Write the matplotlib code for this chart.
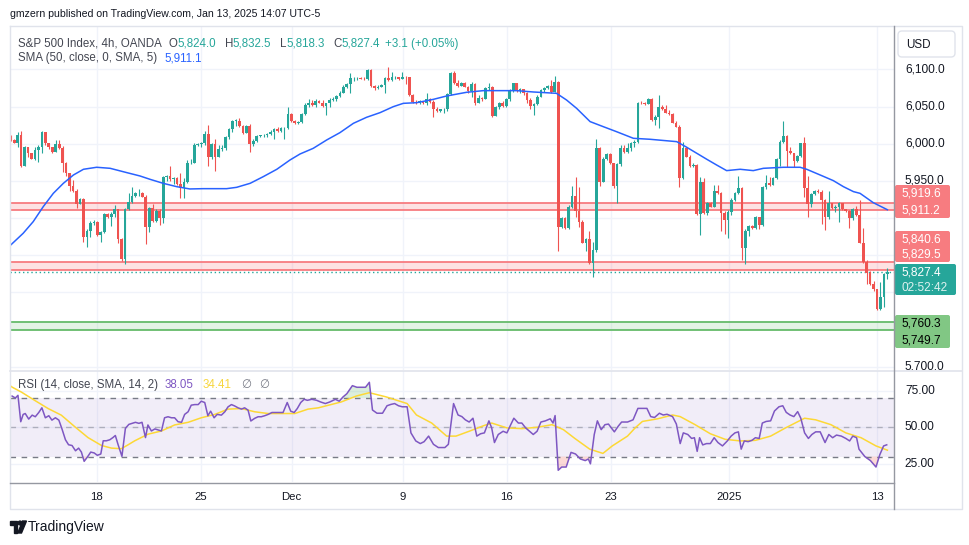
#S&P 500 Index 4h chart with SMA(50) and RSI(14), redrawn like the TradingView snapshot

import numpy as np
import matplotlib
matplotlib.use("Agg")
import matplotlib.pyplot as plt
from matplotlib.patches import FancyBboxPatch, Polygon, Circle

plt.rcParams["font.family"] = ["Liberation Sans", "DejaVu Sans"]

#Candles (open of each bar = previous close)
first_open = 6010.5
closes = [
    6005.1, 6001.5, 6011.8, 5970.0, 5995.2, 5988.0, 5979.9, 5991.6, 5995.2, 6016.3,
    6000.6, 5995.2, 5989.3, 5999.7, 5993.8, 5973.6, 5961.1, 5943.1, 5936.8, 5918.8,
    5925.1, 5874.9, 5883.0, 5893.7, 5894.6, 5877.1, 5881.6, 5905.4, 5901.8, 5905.4,
    5911.7, 5871.3, 5844.3, 5911.7, 5922.0, 5929.6, 5933.2, 5934.1, 5928.7, 5888.3,
    5913.0, 5896.4, 5909.9, 5899.5, 5955.7, 5956.6, 5952.1, 5953.4, 5945.8, 5940.0,
    5948.9, 5973.6, 5974.5, 5998.3, 5999.7, 6001.5, 6013.1, 5981.7, 5999.7, 5982.6,
    5992.5, 5993.8, 6009.5, 6019.4, 6031.1, 6031.1, 6023.9, 6015.0, 6023.9, 5999.7,
    6004.2, 6010.5, 6011.3, 6011.8, 6013.1, 6016.3, 6019.4, 6017.6, 6020.8, 6020.8,
    6040.1, 6031.1, 6027.5, 6029.8, 6040.1, 6052.2, 6055.3, 6052.2, 6058.0, 6055.3,
    6050.8, 6054.4, 6058.9, 6059.8, 6064.3, 6068.8, 6076.9, 6080.5, 6088.1, 6088.1,
    6088.6, 6087.7, 6086.8, 6099.3, 6077.8, 6074.6, 6076.9, 6078.7, 6088.1, 6085.9,
    6089.5, 6089.5, 6086.8, 6090.4, 6089.5, 6065.7, 6056.7, 6054.4, 6057.1, 6054.4,
    6059.8, 6056.7, 6046.4, 6044.6, 6046.4, 6047.3, 6067.0, 6095.7, 6082.3, 6077.8,
    6081.4, 6076.9, 6071.5, 6080.5, 6055.3, 6061.2, 6059.8, 6074.6, 6076.9, 6037.4,
    6049.1, 6055.3, 6050.8, 6059.8, 6072.4, 6081.4, 6071.5, 6073.3, 6067.9, 6058.9,
    6050.8, 6053.5, 6063.4, 6072.4, 6074.6, 6077.8, 6070.2, 6083.6, 5887.4, 5899.5,
    5886.1, 5915.3, 5929.6, 5909.9, 5895.1, 5866.8, 5871.3, 5839.0, 5856.9, 5993.8,
    5948.9, 5979.0, 5986.2, 5973.6, 5943.1, 5972.7, 5993.8, 5989.3, 5993.8, 6001.5,
    6002.8, 6055.3, 6054.4, 6053.5, 6059.8, 6032.0, 6036.5, 6049.9, 6046.4, 6041.9,
    6040.1, 6028.4, 6023.0, 5953.4, 5993.8, 5982.6, 5970.0, 5971.8, 5905.4, 5948.9,
    5906.3, 5920.6, 5915.3, 5936.8, 5933.2, 5906.3, 5897.3, 5908.5, 5924.2, 5934.1,
    5940.0, 5859.2, 5883.0, 5889.2, 5886.1, 5900.9, 5890.6, 5941.3, 5947.6, 5944.5,
    5953.4, 5979.0, 6002.8, 6010.5, 5990.7, 5987.1, 5977.2, 5983.5, 6000.6, 5940.0,
    5918.8, 5932.3, 5936.8, 5935.5, 5924.2, 5900.9, 5920.6, 5913.0, 5915.3, 5919.7,
    5911.7, 5909.9, 5899.5, 5911.7, 5904.1, 5866.8, 5841.2, 5825.5, 5811.1, 5804.0,
    5777.0, 5793.2, 5824.0, 5827.4,
]
highs = [
    6011.8, 6006.9, 6016.3, 6017.6, 5997.0, 5992.5, 5987.1, 5995.2, 5998.3, 6017.6,
    6016.3, 6001.5, 5996.1, 6005.1, 6005.1, 5997.0, 5975.9, 5954.8, 5951.2, 5938.6,
    5926.5, 5926.5, 5884.7, 5895.5, 5897.3, 5896.4, 5883.0, 5907.2, 5906.3, 5908.1,
    5917.0, 5912.6, 5873.1, 5913.0, 5933.2, 5942.2, 5935.5, 5938.6, 5935.0, 5931.0,
    5915.2, 5918.8, 5911.7, 5911.7, 5956.6, 5957.9, 5970.0, 5954.8, 5955.7, 5960.2,
    5953.4, 5978.1, 5979.0, 6000.6, 6001.5, 6002.8, 6017.6, 6025.3, 6001.5, 6006.0,
    5998.3, 5998.3, 6010.5, 6020.8, 6032.0, 6032.9, 6034.2, 6025.3, 6025.3, 6026.6,
    6006.0, 6011.8, 6012.2, 6013.1, 6014.9, 6018.5, 6021.7, 6022.1, 6023.0, 6023.0,
    6049.1, 6041.9, 6032.0, 6031.1, 6041.9, 6054.4, 6059.8, 6058.9, 6059.8, 6058.9,
    6058.9, 6055.3, 6061.2, 6062.5, 6066.1, 6070.6, 6078.7, 6081.4, 6094.8, 6089.5,
    6089.5, 6089.5, 6089.5, 6101.1, 6100.2, 6079.1, 6079.1, 6080.5, 6090.4, 6103.8,
    6097.1, 6091.3, 6090.4, 6097.1, 6091.3, 6090.4, 6067.0, 6058.9, 6058.9, 6058.0,
    6068.8, 6061.2, 6058.9, 6050.0, 6047.3, 6048.6, 6068.8, 6097.1, 6098.0, 6085.9,
    6083.2, 6083.2, 6077.8, 6083.2, 6081.4, 6065.7, 6063.4, 6076.0, 6081.4, 6077.8,
    6050.8, 6056.7, 6057.1, 6061.2, 6073.3, 6082.3, 6082.3, 6075.1, 6074.2, 6070.2,
    6061.2, 6055.3, 6065.7, 6074.2, 6076.0, 6079.1, 6085.9, 6091.3, 6085.0, 5901.8,
    5900.9, 5917.5, 5943.1, 5954.8, 5942.2, 5897.3, 5872.6, 5883.0, 5868.1, 6006.0,
    5995.2, 5981.7, 5988.0, 5987.1, 5974.5, 5974.5, 5998.3, 5998.3, 6000.6, 6002.8,
    6005.1, 6056.7, 6057.1, 6056.2, 6061.2, 6061.2, 6038.7, 6065.7, 6052.2, 6052.2,
    6045.5, 6041.9, 6031.1, 6025.3, 6002.8, 5995.2, 5984.8, 5973.6, 5972.7, 5954.8,
    5953.4, 5922.0, 5922.0, 5944.5, 5944.5, 5935.5, 5909.9, 5910.8, 5926.5, 5935.5,
    5956.6, 5941.3, 5884.7, 5890.6, 5890.6, 5902.7, 5901.8, 5943.1, 5957.9, 5955.7,
    5954.8, 5980.4, 6005.1, 6031.1, 6011.8, 5996.1, 5988.0, 5984.8, 6001.5, 6008.6,
    5956.6, 5934.1, 5937.7, 5938.6, 5937.7, 5925.1, 5936.8, 5920.6, 5917.5, 5922.0,
    5920.6, 5912.6, 5910.8, 5913.0, 5916.2, 5924.2, 5886.1, 5843.4, 5829.1, 5815.6,
    5804.9, 5814.3, 5826.0, 5832.5,
]
lows = [
    6004.2, 6000.6, 5995.2, 5968.0, 5970.0, 5982.6, 5979.0, 5978.1, 5975.9, 5988.0,
    5998.3, 5992.5, 5988.0, 5990.7, 5992.5, 5962.4, 5956.6, 5936.8, 5935.5, 5913.0,
    5918.8, 5868.1, 5860.5, 5874.9, 5890.6, 5875.8, 5868.1, 5879.4, 5900.0, 5889.2,
    5901.8, 5865.9, 5842.5, 5838.0, 5910.8, 5919.7, 5927.8, 5929.6, 5927.8, 5865.0,
    5881.6, 5895.1, 5895.1, 5890.6, 5892.8, 5950.3, 5950.3, 5945.8, 5944.5, 5926.5,
    5926.5, 5947.6, 5972.7, 5991.6, 5997.0, 5996.1, 5998.3, 5970.0, 5979.9, 5963.8,
    5982.6, 5990.7, 5991.6, 6006.0, 6016.3, 6023.9, 6023.0, 6013.1, 6015.0, 5989.3,
    5997.0, 6002.8, 6008.6, 6008.6, 6009.5, 6011.8, 6006.0, 6016.3, 6016.3, 6006.0,
    6019.4, 6029.8, 6026.6, 6026.6, 6027.5, 6038.7, 6049.9, 6050.8, 6049.9, 6054.4,
    6049.9, 6038.7, 6049.9, 6057.1, 6058.0, 6062.5, 6067.9, 6074.6, 6067.9, 6085.0,
    6085.9, 6086.8, 6085.9, 6085.9, 6076.9, 6072.4, 6074.2, 6076.9, 6068.8, 6085.0,
    6085.0, 6087.7, 6085.9, 6086.8, 6080.5, 6064.3, 6055.3, 6053.5, 6053.5, 6053.1,
    6052.2, 6055.3, 6035.6, 6043.2, 6043.2, 6041.0, 6044.6, 6065.7, 6080.5, 6076.9,
    6077.8, 6076.0, 6067.9, 6063.4, 6052.2, 6058.0, 6058.0, 6059.8, 6072.4, 6036.5,
    6037.4, 6046.4, 6049.9, 6049.9, 6058.0, 6070.2, 6070.2, 6067.9, 6066.1, 6055.3,
    6046.4, 6038.7, 6052.2, 6062.5, 6070.2, 6073.3, 6068.8, 6069.3, 5856.0, 5886.1,
    5884.7, 5884.7, 5913.0, 5901.8, 5888.3, 5865.9, 5856.0, 5838.0, 5821.0, 5854.7,
    5943.1, 5968.2, 5978.1, 5972.7, 5940.0, 5920.6, 5970.0, 5988.0, 5988.0, 5990.7,
    5995.2, 6000.6, 6053.5, 6052.6, 6053.5, 6031.1, 6025.3, 6020.8, 6045.5, 6041.0,
    6038.7, 6027.5, 6022.1, 5942.2, 5952.1, 5981.7, 5969.1, 5969.1, 5904.1, 5877.1,
    5905.4, 5904.1, 5914.4, 5914.4, 5932.3, 5883.0, 5878.5, 5872.6, 5904.1, 5923.3,
    5932.3, 5843.4, 5838.0, 5875.8, 5884.7, 5884.7, 5884.7, 5889.2, 5938.6, 5943.1,
    5945.8, 5952.1, 5970.0, 6001.5, 5969.1, 5986.2, 5969.1, 5975.9, 5981.7, 5927.8,
    5901.8, 5915.3, 5931.0, 5934.1, 5891.9, 5883.9, 5898.2, 5911.7, 5908.5, 5895.1,
    5910.8, 5908.5, 5886.1, 5897.3, 5902.7, 5865.9, 5839.9, 5811.1, 5809.8, 5802.2,
    5776.1, 5776.1, 5779.7, 5818.3,
]

#SMA(50) line (bar index, value)
sma_x = [0, 3.6, 6.5, 9.4, 12.3, 15.2, 18.1, 21, 24.8, 28.7, 33.5, 37.3, 40.2, 44, 47.9,
         51.7, 55.6, 62.3, 65.2, 69.1, 72.9, 76.8, 80.6, 83.5, 87.3, 91.2, 95, 98.9,
         102.7, 106.6, 110.4, 113.3, 117.2, 122, 125.8, 131.6, 136.4, 146, 150.8, 157.5,
         160.4, 163.3, 167.2, 171, 174.8, 179.7, 184.5, 192.2, 195.1, 198, 200.9, 203.7,
         206.6, 210.5, 214.3, 217.2, 223, 227.8, 229.7, 233.6, 237.4, 240.3, 243.2,
         245.1, 248.9, 253]
sma_vals = [5863.6, 5879.4, 5895.1, 5915.3, 5933.2, 5946.7, 5957.9, 5965.6, 5968.3, 5966.9,
            5961.1, 5956.6, 5952.1, 5946.7, 5942.2, 5939.1, 5939.5, 5939.5, 5941.3, 5946.7,
            5955.7, 5965.6, 5978.1, 5986.2, 5993.8, 6005.1, 6014.9, 6027.5, 6035.6, 6041.9,
            6049.9, 6054.4, 6055.3, 6059.8, 6064.3, 6069.3, 6071.5, 6071.5, 6069.7, 6067.9,
            6058.9, 6047.7, 6029.8, 6023.0, 6016.3, 6007.3, 6006.0, 6002.8, 5995.2, 5987.1,
            5979.0, 5971.4, 5963.8, 5965.6, 5963.8, 5966.9, 5968.3, 5968.3, 5965.6, 5957.9,
            5950.3, 5942.2, 5935.5, 5933.2, 5920.7, 5911.1]

#RSI(14) and its SMA
rsi_x = [0.4, 1.35, 2.1, 2.9, 3.6, 4.2, 5.2, 6.2, 7.1, 8.1, 9.0, 10.0, 11.0, 11.9, 12.9,
         13.9, 14.8, 15.8, 16.7, 17.7, 18.7, 19.6, 20.4, 21.2, 22.1, 23.1, 24.1, 25.0,
         26.0, 26.7, 27.6, 28.6, 29.5, 30.2, 31.0, 32.1, 33.1, 34.1, 35.0, 36.0, 37.0,
         37.9, 38.9, 39.6, 40.6, 41.6, 42.5, 43.5, 44.4, 45.4, 46.4, 47.3, 48.3, 49.3,
         50.2, 51.2, 52.1, 53.1, 54.1, 55.0, 56.0, 56.9, 57.7, 58.7, 59.6, 60.8, 61.8,
         62.7, 63.7, 64.6, 65.6, 66.6, 67.5, 68.5, 69.3, 70.4, 71.4, 72.3, 73.3, 74.3,
         75.4, 76.4, 77.6, 78.6, 79.8, 80.8, 81.8, 82.7, 83.7, 84.7,
         85.6, 86.9, 88.3, 89.4, 90.8, 92.1, 93.7, 94.8, 95.9, 97.0, 98.6, 99.9, 101.3,
         102.4, 103.5, 104.4, 105.7, 107.3, 108.6, 109.7, 110.8, 111.9, 113.0, 114.4,
         115.5, 116.9, 118.2, 119.3, 120.6, 122.0, 123.4, 125.3, 126.3, 127.8, 129.1,
         130.2, 131.2, 132.3, 133.4, 134.5, 135.6, 136.7, 138.0, 138.8, 139.6, 140.7,
         142.1, 143.2, 144.3, 145.2, 146.5, 147.5, 148.6, 149.7, 150.8, 151.9, 153.0,
         154.3, 155.7, 156.5, 157.1, 158.0, 159.0, 160.3, 161.7, 163.0, 164.4, 165.8,
         166.7, 167.3, 168.4, 169.3, 170.4, 171.5, 172.5, 174.2, 175.3, 176.3, 178.0,
         179.6, 181.0, 182.3, 183.6, 184.7, 185.8, 187.2, 188.3, 189.4, 191.0, 192.1,
         193.2, 194.1, 195.4, 196.5, 197.3, 198.1, 198.8, 199.7, 200.8, 201.9, 203.0,
         204.1, 205.4, 206.8, 207.9, 209.0, 210.0, 210.8, 211.7, 212.8, 213.9, 214.9,
         216.0, 216.9, 218.0, 219.3, 220.4, 221.7, 222.8, 223.8, 224.9, 226.0, 227.1,
         228.0, 229.1, 230.2, 231.2, 232.3, 233.6, 235.0, 236.1, 237.2, 238.3, 239.7,
         241.0, 242.1, 243.0, 244.1, 244.8, 246.5, 248.1, 249.7, 250.8, 251.9, 252.8]
rsi_vals = [71.3, 70.0, 71.8, 53.8, 58.8, 59.4, 55.6, 58.3, 57.2, 60.1, 63.3, 56.5, 57.9,
            54.9, 56.5, 54.9, 48.9, 41.5, 38.1, 37.6, 34.0, 35.8, 33.1, 26.8, 29.6, 33.1,
            32.5, 30.9, 31.8, 40.8, 40.8, 41.5, 43.0, 44.4, 38.1, 30.2, 49.3, 52.0, 52.7,
            53.4, 52.7, 53.4, 43.0, 51.6, 47.5, 48.9, 48.2, 47.5, 56.5, 57.2, 56.5, 56.5,
            53.8, 53.4, 58.8, 60.6, 65.1, 65.5, 65.5, 67.8, 66.9, 57.9, 61.0, 56.5, 58.8,
            58.3, 60.6, 63.9, 65.5, 64.6, 63.3, 62.4, 63.3, 61.7, 54.3, 56.1, 57.2, 57.2,
            57.9, 58.8, 60.1, 60.1, 60.1, 60.1, 66.9, 61.0, 60.1, 62.8, 66.9, 69.1,
            68.4, 69.1, 68.4, 67.3, 66.2, 67.3, 69.1, 67.8, 70.7, 72.9, 78.4, 77.3, 77.3,
            77.3, 80.7, 61.8, 59.6, 59.6, 64.7, 65.6, 66.2, 64.7, 64.0, 64.0, 46.2, 40.7,
            38.9, 40.2, 44.0, 38.4, 36.2, 36.2, 38.4, 66.2, 58.4, 57.3, 55.1, 53.6, 56.2,
            44.0, 45.6, 46.2, 54.4, 49.6, 39.6, 45.1, 47.3, 46.2, 51.8, 56.2, 52.9, 52.9,
            49.6, 47.3, 45.1, 47.3, 53.6, 54.4, 55.8, 52.9, 58.0, 20.7, 22.9, 22.9, 32.9,
            31.8, 28.4, 27.3, 28.4, 25.1, 45.1, 54.4, 48.4, 51.8, 52.2, 46.9, 50.7, 53.6,
            53.6, 55.1, 62.9, 62.9, 62.9, 57.3, 56.7, 59.6, 58.4, 58.9, 57.3, 52.2, 38.9,
            46.2, 45.1, 42.4, 42.9, 33.6, 42.9, 38.0, 38.9, 38.9, 42.9, 39.6, 37.3, 40.7,
            44.0, 46.2, 46.9, 35.1, 40.7, 40.2, 41.1, 42.9, 42.4, 52.9, 54.0, 54.4, 61.1,
            64.0, 64.7, 60.2, 58.4, 57.3, 60.7, 56.2, 46.2, 42.4, 45.1, 46.9, 46.9, 39.6,
            45.1, 42.9, 44.7, 44.0, 42.4, 40.7, 44.0, 42.9, 35.1, 30.0, 27.3, 22.9, 31.3,
            37.3, 38.05]
rsi_ma_x = [-0.2, 0.4, 3.1, 6.9, 10.8, 14.6, 18.5, 22.3, 26.2, 29.1, 31.9, 33.9, 35.8, 39.6,
            43.5, 47.3, 51.2, 55.0, 58.9, 62.7, 66.6, 70.4, 74.3, 78.1, 82.0, 85.8, 88.8,
            95.4, 99.7, 103.5, 108.4, 114.4, 117.1, 121.5, 125.8, 128.5, 132.3, 136.7,
            138.8, 143.2, 147.5, 151.9, 156.2, 159.5, 162.8, 167.1, 170.9, 173.6, 178.0,
            180.2, 182.3, 186.7, 191.0, 193.2, 197.5, 201.9, 206.2, 210.6, 214.9, 219.3,
            223.6, 229.1, 232.3, 236.7, 241.0, 245.4, 249.7, 253]
rsi_ma_vals = [78.5, 77.4, 74.0, 68.4, 62.8, 58.3, 50.4, 43.0, 37.6, 35.8, 35.4, 38.1, 40.8,
               45.3, 47.5, 51.6, 53.4, 56.5, 58.8, 62.4, 62.8, 60.6, 59.4, 59.4, 59.4, 62.4,
               63.3, 67.3, 71.3, 73.6, 70.7, 66.2, 58.4, 52.9, 44.0, 44.0, 47.3, 51.3, 52.9,
               49.6, 49.1, 50.0, 51.8, 48.4, 42.4, 35.1, 32.2, 37.3, 44.0, 49.6, 54.0, 55.8,
               58.4, 57.3, 51.8, 45.6, 41.8, 40.7, 41.1, 44.0, 49.6, 56.2, 55.1, 51.8, 46.2,
               42.9, 37.3, 34.41]

#Time axis and levels
date_ticks = [24.8, 54.8, 81.1, 113.1, 143.1, 173.2, 207.3, 250.0]
date_labels = ["18", "25", "Dec", "9", "16", "23", "2025", "13"]
price_grid = [5700, 5750, 5800, 5850, 5900, 5950, 6000, 6050, 6100]
rsi_grid = [25, 50, 75]
red_zones = [(5911.2, 5919.6), (5829.5, 5840.6)]
green_zone = (5749.7, 5760.3)
last_price = 5827.4

#Colours
UP = "#26A69A"
DOWN = "#EF5350"
TXT = "#131722"
LEG = "#434651"
GRID = "#F0F3FA"
BORDER = "#E0E3EB"
SCALE = "#9598A1"
RED_LVL = "#F77C80"
GREEN_LVL = "#66BB6A"

W, H = 970, 545
fig = plt.figure(figsize=(9.7, 5.45), dpi=100)
fig.patch.set_facecolor("white")


def box(x0, y0, x1, y1):
    #pixel box (top-left origin) -> figure fraction rect
    return [x0 / W, 1 - y1 / H, (x1 - x0) / W, (y1 - y0) / H]


ax = fig.add_axes(box(10, 27, 894, 370))
axr = fig.add_axes(box(10, 371, 894, 482))
ps = fig.add_axes(box(894, 27, 962, 370))
rs = fig.add_axes(box(894, 371, 962, 482))

XLIM = (-0.2, 254.9)

#Price pane
ax.set_xlim(*XLIM)
ax.set_ylim(5695.3, 6157.2)
for a in (ax, axr, ps, rs):
    for s in a.spines.values():
        s.set_visible(False)
    a.set_yticks([])
    a.set_xticks([])
    a.set_facecolor("none")

for p in price_grid:
    ax.axhline(p, color=GRID, lw=1, zorder=0)
for t in date_ticks:
    ax.axvline(t, color=GRID, lw=1, zorder=0)

for lo_, hi_ in red_zones:
    ax.axhspan(lo_, hi_, color=RED_LVL, alpha=0.22, lw=0, zorder=1)
    ax.axhline(lo_, color=RED_LVL, lw=1.3, zorder=1)
    ax.axhline(hi_, color=RED_LVL, lw=1.3, zorder=1)
ax.axhspan(green_zone[0], green_zone[1], color="#81C784", alpha=0.2, lw=0, zorder=1)
ax.axhline(green_zone[0], color=GREEN_LVL, lw=1.3, zorder=1)
ax.axhline(green_zone[1], color=GREEN_LVL, lw=1.3, zorder=1)

closes_a = np.array(closes)
opens_a = np.concatenate([[first_open], closes_a[:-1]])
highs_a = np.maximum(np.array(highs), np.maximum(opens_a, closes_a))
lows_a = np.minimum(np.array(lows), np.minimum(opens_a, closes_a))
xs = np.arange(len(closes_a))
colors = np.where(closes_a >= opens_a, UP, DOWN)

ax.vlines(xs, lows_a, highs_a, colors=colors, lw=0.8, zorder=3)
body_lo = np.minimum(opens_a, closes_a)
body_h = np.maximum(np.abs(closes_a - opens_a), 0.9)
ax.bar(xs, body_h, bottom=body_lo, width=0.78, color=colors, linewidth=0, zorder=4)

ax.plot(sma_x, sma_vals, color="#2962FF", lw=1.1, zorder=5)
ax.axhline(last_price, color=UP, lw=1, ls=(0, (1, 2)), zorder=2)

#RSI pane
axr.set_xlim(*XLIM)
axr.set_ylim(12.7, 88.4)
for r in rsi_grid:
    axr.axhline(r, color=GRID, lw=1, zorder=0)
for t in date_ticks:
    axr.axvline(t, color=GRID, lw=1, zorder=0)
axr.axhspan(30, 70, color="#7E57C2", alpha=0.1, lw=0, zorder=1)
axr.axhline(70, color="#787B86", lw=1, ls=(0, (4, 4)), zorder=2)
axr.axhline(50, color="#787B86", lw=1, ls=(0, (4, 4)), alpha=0.5, zorder=2)
axr.axhline(30, color="#787B86", lw=1, ls=(0, (4, 4)), zorder=2)

rx = np.array(rsi_x)
rv = np.array(rsi_vals)
axr.fill_between(rx, rv, 70, where=rv > 70, interpolate=True, color="#4CAF50", alpha=0.2, lw=0)
axr.fill_between(rx, rv, 30, where=rv < 30, interpolate=True, color="#F44336", alpha=0.2, lw=0)
axr.plot(rsi_ma_x, rsi_ma_vals, color="#FDD835", lw=1.1, zorder=4)
axr.plot(rx, rv, color="#7E57C2", lw=1.1, zorder=5)

axr.set_xticks(date_ticks, labels=date_labels)
axr.tick_params(axis="x", length=0, pad=7, labelsize=8.2, labelcolor=TXT)

#Price labels on the scale (pixel rows of each coloured tag)
tags = [
    (185, 218, 950, RED_LVL, ["5,919.6", "5,911.2"], "white"),
    (231, 262, 950, RED_LVL, ["5,840.6", "5,829.5"], "white"),
    (264, 295, 956, UP, ["5,827.4", "02:52:42"], "white"),
    (315, 348, 950, "#81C784", ["5,760.3", "5,749.7"], "black"),
]

#Right-hand scales; grid labels that sit under a tag are hidden like on the site
ps.set_xlim(0, 1)
ps.set_ylim(ax.get_ylim())
for p in price_grid:
    row = H - ps.transData.transform((0, p))[1]
    if any(y0 - 3 < row < y1 + 3 for y0, y1, *_ in tags):
        continue
    ps.text(0.16, p, f"{p:,.1f}", fontsize=8.6, color=TXT, va="center", ha="left", clip_on=True)
rs.set_xlim(0, 1)
rs.set_ylim(axr.get_ylim())
for r in rsi_grid:
    rs.text(0.16, r, f"{r:.2f}", fontsize=8.6, color=TXT, va="center", ha="left")

#Overlay in pixel coordinates: frame, labels, legend, footer
ov = fig.add_axes([0, 0, 1, 1], zorder=5)
ov.set_xlim(0, W)
ov.set_ylim(H, 0)
ov.axis("off")
ov.patch.set_alpha(0)

ov.plot([10, 962, 962, 10, 10], [26, 26, 509, 509, 26], color=BORDER, lw=1)
ov.plot([10, 962], [370.5, 370.5], color=BORDER, lw=1.2)
ov.plot([894.5, 894.5], [26, 509], color=SCALE, lw=1)
ov.plot([10, 894.5], [482.5, 482.5], color=SCALE, lw=1)

ov.add_patch(FancyBboxPatch((898, 31), 57, 26, boxstyle="round,pad=0,rounding_size=4",
                            fc="white", ec=BORDER, lw=1))
ov.text(906, 44.5, "USD", fontsize=8.4, color=TXT, va="center", ha="left")

for y0, y1, x1, c, lines, tc in tags:
    ov.add_patch(FancyBboxPatch((895, y0), x1 - 895, y1 - y0,
                                boxstyle="round,pad=0,rounding_size=2", fc=c, ec="none"))
    h = (y1 - y0) / 4
    ov.text(902, y0 + h + 0.5, lines[0], fontsize=8.6, color=tc, va="center", ha="left")
    ov.text(902, y1 - h + 0.5, lines[1], fontsize=8.6, color=tc, va="center", ha="left",
            alpha=0.85 if lines[1] == "02:52:42" else 1)

#Header and legends
ov.text(10, 14, "gmzern published on TradingView.com, Jan 13, 2025 14:07 UTC-5",
        fontsize=7.6, color=TXT, va="center", ha="left")


def legend_row(x, y, parts):
    prev = ov.text(x, y, parts[0][0], fontsize=8.3, color=parts[0][1], va="center", ha="left")
    for text, col, gap in parts[1:]:
        prev = ov.annotate(text, xy=(1, 0.5), xycoords=prev, xytext=(gap, 0),
                           textcoords="offset points", fontsize=8.3, color=col,
                           va="center", ha="left")


legend_row(18, 44, [("S&P 500 Index, 4h, OANDA", LEG), ("O", LEG, 5), ("5,824.0", UP, 0),
                    ("H", LEG, 6), ("5,832.5", UP, 0), ("L", LEG, 6), ("5,818.3", UP, 0),
                    ("C", LEG, 6), ("5,827.4", UP, 0), ("+3.1 (+0.05%)", UP, 4)])
legend_row(18, 58.5, [("SMA (50, close, 0, SMA, 5)", LEG), ("5,911.1", "#2962FF", 5)])
legend_row(18, 385, [("RSI (14, close, SMA, 14, 2)", LEG), ("38.05", "#7E57C2", 5),
                     ("34.41", "#F7D63F", 6), ("\u2205", "#787B86", 7), ("\u2205", "#787B86", 6)])

#Footer logo
ov.add_patch(Polygon([(10, 521), (17.5, 521), (17.5, 533), (14, 533), (14, 524.5), (10, 524.5)],
                     closed=True, color=TXT))
ov.add_patch(Circle((20, 523), 1.9, color=TXT))
ov.add_patch(Polygon([(22.5, 521), (26.5, 521), (21.5, 533), (17.8, 533)], closed=True, color=TXT))
ov.text(28, 527, "TradingView", fontsize=10, color=TXT, va="center", ha="left")

plt.savefig("out.png", dpi=100, facecolor="white")
